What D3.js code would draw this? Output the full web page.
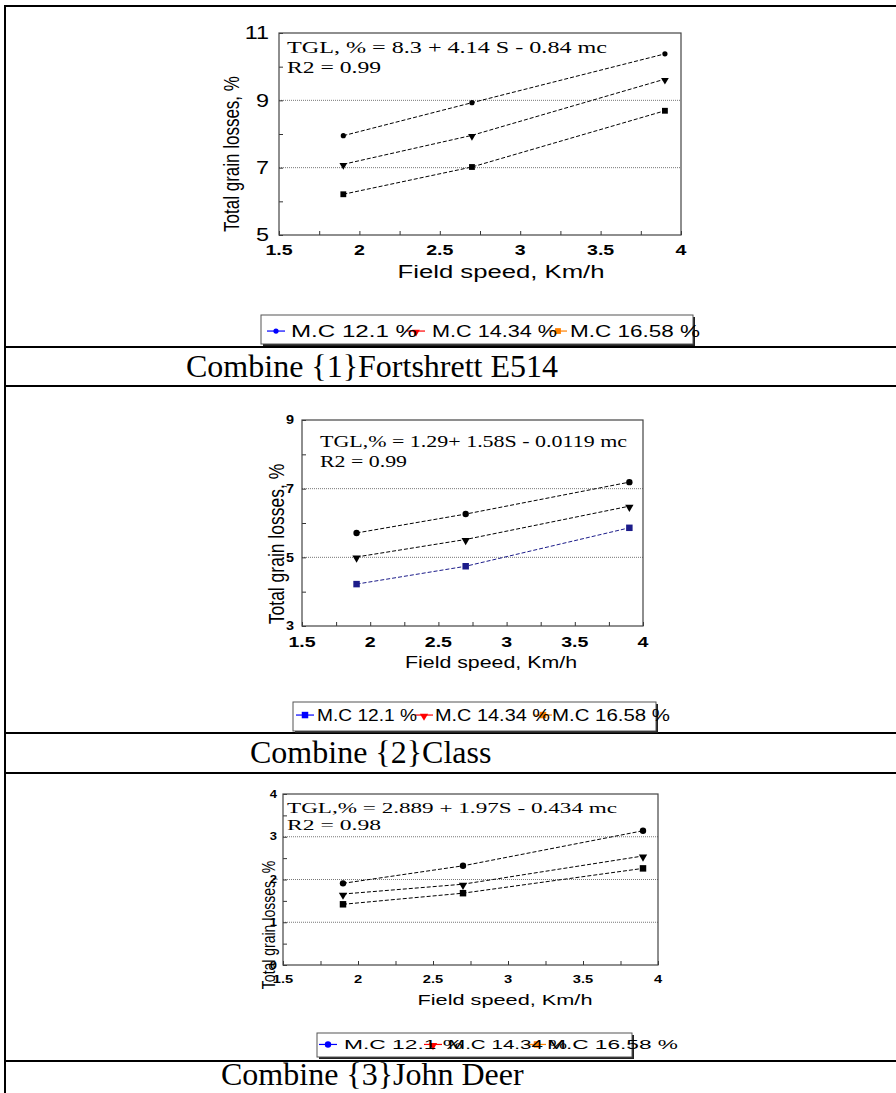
<!DOCTYPE html>
<html>
<head>
<meta charset="utf-8">
<script src="https://cdn.jsdelivr.net/npm/d3@7"></script>
<style>
  body { margin: 0; background: #fff; }
  svg { display: block; }
</style>
</head>
<body>
<svg id="page"></svg>
<script>
//Values. x = field speed (Km/h).
var speeds = [1.9, 2.7, 3.9];
var mcLabels = ["M.C 12.1 %", "M.C 14.34 %", "M.C 16.58 %"];
var captions = ["Combine {1}Fortshrett E514", "Combine {2}Class", "Combine {3}John Deer"];
var equations = ["TGL, % = 8.3 + 4.14 S - 0.84 mc",
                 "TGL,% = 1.29+ 1.58S - 0.0119 mc",
                 "TGL,% = 2.889 + 1.97S - 0.434 mc"];
var r2Labels = ["R2 = 0.99", "R2 = 0.99", "R2 = 0.98"];
var xTicks = [1.5, 2, 2.5, 3, 3.5, 4];

//Total grain losses, % (top line = circles, middle = triangles, bottom = squares)
var fortCircle = [7.95, 8.93, 10.38];
var fortTriangle = [7.10, 7.96, 9.63];
var fortSquare = [6.21, 7.02, 8.69];
var classCircle = [5.71, 6.26, 7.19];
var classTriangle = [5.01, 5.52, 6.49];
var classSquare = [4.22, 4.74, 5.86];
var deerCircle = [1.91, 2.32, 3.14];
var deerTriangle = [1.66, 1.89, 2.55];
var deerSquare = [1.42, 1.68, 2.26];

var fortYTicks = [5, 7, 9, 11];
var fortYGrid = [7, 9];
var classYTicks = [3, 5, 7, 9];
var classYGrid = [5, 7];
var deerYTicks = [0, 1, 2, 3, 4];
var deerYGrid = [1, 2, 3];

var W = 896, H = 1093;
var svg = d3.select("#page").attr("width", W).attr("height", H);

//Where each chart sits on the page (copied from the document layout).
var panels = [
  { xr: [279, 681], yr: [235, 33], yDomain: [5, 11], yTicks: fortYTicks, yGrid: fortYGrid, yMinor: 1,
    series: [fortCircle, fortTriangle, fortSquare], colors: ["#000", "#000", "#000"], big: false,
    eq: { x: 287, y: 53, w: 320, r2y: 73, r2w: 94, size: 16 },
    yLab: { x: 269, size: 18, bold: false, sx: 1.3 },
    xLab: { y: 255, size: 14 },
    yTitle: { x: 239, y: 154, size: 17 },
    xTitle: { x: 501, y: 278, w: 207, size: 18 },
    legend: { x: 261, y: 315, w: 432, h: 29, base: 337, size: 17,
              marks: [276, 416, 558], texts: [291, 432, 570], widths: [126, 125, 130],
              shapes: ["circle", "triangle", "square"] },
    caption: { x: 186, y: 377 } },
  { xr: [302, 643], yr: [626, 420], yDomain: [3, 9], yTicks: classYTicks, yGrid: classYGrid, yMinor: 1,
    series: [classCircle, classTriangle, classSquare], colors: ["#000", "#000", "#1c1c8a"], big: true,
    eq: { x: 320, y: 447, w: 307, r2y: 467, r2w: 87, size: 17 },
    yLab: { x: 294, size: 12, bold: true, sx: 1.2 },
    xLab: { y: 647, size: 14 },
    yTitle: { x: 284, y: 544, size: 17.5 },
    xTitle: { x: 491, y: 668, w: 172, size: 16 },
    legend: { x: 293, y: 702, w: 363, h: 29, base: 721, size: 17,
              marks: [305, 424, 543], texts: [317, 435, 552], widths: [100, 115, 118],
              shapes: ["square", "triangle", "square"] },
    caption: { x: 250, y: 763 } },
  { xr: [283, 658], yr: [965, 794], yDomain: [0, 4], yTicks: deerYTicks, yGrid: deerYGrid, yMinor: 0.5,
    series: [deerCircle, deerTriangle, deerSquare], colors: ["#000", "#000", "#000"], big: true,
    eq: { x: 287, y: 813, w: 330, r2y: 830, r2w: 94, size: 15 },
    yLab: { x: 277, size: 10, bold: true, sx: 1.3 },
    xLab: { y: 983, size: 10.5 },
    yTitle: { x: 275, y: 925, size: 14 },
    xTitle: { x: 505, y: 1005, w: 175, size: 15 },
    legend: { x: 317, y: 1033, w: 315, h: 24, base: 1049, size: 13,
              marks: [328, 433, 537], texts: [344, 448, 547], widths: [119, 119, 131],
              shapes: ["circle", "triangle", "square"] },
    caption: { x: 221, y: 1085 } }
];

var legendColors = ["#0000ff", "#ff0000", "#ff8000"];
var shapeOrder = ["circle", "triangle", "square"];

//Table rules of the document.
var tableRows = [6, 347, 386, 733, 773, 1061];
svg.append("g").selectAll("line").data(tableRows).enter().append("line")
  .attr("x1", 4).attr("x2", W).attr("y1", d => d).attr("y2", d => d)
  .attr("stroke", "#000").attr("stroke-width", 2);
svg.append("line").attr("x1", 5).attr("x2", 5).attr("y1", 5).attr("y2", H)
  .attr("stroke", "#000").attr("stroke-width", 2);

function marker(g, shape, cx, cy, color, big) {
  if (shape == "circle") {
    g.append("circle").attr("cx", cx).attr("cy", cy).attr("r", big ? 3.2 : 2.6).attr("fill", color);
  } else if (shape == "triangle") {
    g.append("path").attr("d", d3.symbol(d3.symbolTriangle, big ? 30 : 26)())
      .attr("transform", "translate(" + cx + "," + (cy + 1) + ") rotate(180)").attr("fill", color);
  } else {
    g.append("path").attr("d", d3.symbol(d3.symbolSquare, big ? 42 : 34)())
      .attr("transform", "translate(" + cx + "," + cy + ")").attr("fill", color);
  }
}

panels.forEach(function(p, k) {
  var g = svg.append("g");
  var x = d3.scaleLinear().domain([1.5, 4]).range(p.xr);
  var y = d3.scaleLinear().domain(p.yDomain).range(p.yr);

  //Dotted gridlines.
  g.append("g").selectAll("line").data(p.yGrid).enter().append("line")
    .attr("x1", p.xr[0]).attr("x2", p.xr[1])
    .attr("y1", d => y(d)).attr("y2", d => y(d))
    .attr("stroke", "#777").attr("stroke-width", 1).attr("stroke-dasharray", "1,1");

  //Inward minor ticks.
  var xAxis = g.append("g").attr("transform", "translate(0," + p.yr[0] + ")")
    .call(d3.axisBottom(x).tickValues(d3.range(1.5, 4.001, 0.25)).tickSize(-4).tickFormat(""));
  var yAxis = g.append("g").attr("transform", "translate(" + p.xr[0] + ",0)")
    .call(d3.axisLeft(y).tickValues(d3.range(p.yDomain[0], p.yDomain[1] + 0.001, p.yMinor)).tickSize(-4).tickFormat(""));
  xAxis.select(".domain").remove();
  yAxis.select(".domain").remove();
  g.selectAll(".tick line").attr("stroke", "#333");

  //Frame.
  g.append("rect").attr("x", p.xr[0]).attr("y", p.yr[1])
    .attr("width", p.xr[1] - p.xr[0]).attr("height", p.yr[0] - p.yr[1])
    .attr("fill", "none").attr("stroke", "#444").attr("stroke-width", 1.2);

  //X tick labels.
  g.append("g").selectAll("text").data(xTicks).enter().append("text")
    .attr("transform", d => "translate(" + x(d) + "," + p.xLab.y + ") scale(1.4,1)")
    .attr("text-anchor", "middle").attr("font-family", "Arial, 'Liberation Sans', sans-serif")
    .attr("font-weight", "bold").attr("font-size", p.xLab.size).text(d => d);

  //Y tick labels.
  g.append("g").selectAll("text").data(p.yTicks).enter().append("text")
    .attr("transform", d => "translate(" + p.yLab.x + "," + y(d) + ") scale(" + p.yLab.sx + ",1)")
    .attr("text-anchor", "end").attr("dy", "0.36em")
    .attr("font-family", "Arial, 'Liberation Sans', sans-serif")
    .attr("font-weight", p.yLab.bold ? "bold" : "normal").attr("font-size", p.yLab.size).text(d => d);

  //Axis titles.
  g.append("text").attr("x", p.xTitle.x - p.xTitle.w / 2).attr("y", p.xTitle.y)
    .attr("textLength", p.xTitle.w).attr("lengthAdjust", "spacingAndGlyphs")
    .attr("font-family", "Arial, 'Liberation Sans', sans-serif").attr("font-size", p.xTitle.size)
    .text("Field speed, Km/h");
  g.append("text")
    .attr("transform", "translate(" + p.yTitle.x + "," + p.yTitle.y + ") rotate(-90) scale(1,1.3)")
    .attr("text-anchor", "middle").attr("font-family", "Arial, 'Liberation Sans', sans-serif")
    .attr("font-size", p.yTitle.size).text("Total grain losses, %");

  //Regression equation.
  g.append("text").attr("x", p.eq.x).attr("y", p.eq.y)
    .attr("textLength", p.eq.w).attr("lengthAdjust", "spacingAndGlyphs")
    .attr("font-family", "'Times New Roman', 'Liberation Serif', serif").attr("font-size", p.eq.size)
    .text(equations[k]);
  g.append("text").attr("x", p.eq.x).attr("y", p.eq.r2y)
    .attr("textLength", p.eq.r2w).attr("lengthAdjust", "spacingAndGlyphs")
    .attr("font-family", "'Times New Roman', 'Liberation Serif', serif").attr("font-size", p.eq.size)
    .text(r2Labels[k]);

  //Series: dashed lines with markers.
  var line = d3.line().x((d, i) => x(speeds[i])).y(d => y(d));
  p.series.forEach(function(vals, s) {
    g.append("path").datum(vals).attr("d", line)
      .attr("fill", "none").attr("stroke", p.colors[s]).attr("stroke-width", 1)
      .attr("stroke-dasharray", "4,2");
    vals.forEach(function(v, i) {
      marker(g, shapeOrder[s], x(speeds[i]), y(v), p.colors[s], p.big);
    });
  });

  //Legend box with shadow.
  var L = p.legend;
  g.append("rect").attr("x", L.x + 2).attr("y", L.y + 2).attr("width", L.w).attr("height", L.h).attr("fill", "#222");
  g.append("rect").attr("x", L.x).attr("y", L.y).attr("width", L.w).attr("height", L.h)
    .attr("fill", "#fff").attr("stroke", "#555").attr("stroke-width", 1);
  mcLabels.forEach(function(lab, i) {
    var cy = L.base - L.size * 0.35;
    g.append("line").attr("x1", L.marks[i] - 9).attr("x2", L.marks[i] + 9)
      .attr("y1", cy).attr("y2", cy).attr("stroke", legendColors[i]).attr("stroke-width", 1.2);
    marker(g, L.shapes[i], L.marks[i], cy, legendColors[i], p.big);
  });
  mcLabels.forEach(function(lab, i) {
    g.append("text").attr("x", L.texts[i]).attr("y", L.base)
      .attr("textLength", L.widths[i]).attr("lengthAdjust", "spacingAndGlyphs")
      .attr("font-family", "Arial, 'Liberation Sans', sans-serif").attr("font-size", L.size)
      .text(lab);
  });

  //Caption row of the table.
  svg.append("text").attr("x", p.caption.x).attr("y", p.caption.y)
    .attr("font-family", "'Times New Roman', 'Liberation Serif', serif").attr("font-size", 32)
    .text(captions[k]);
});
</script>
</body>
</html>
